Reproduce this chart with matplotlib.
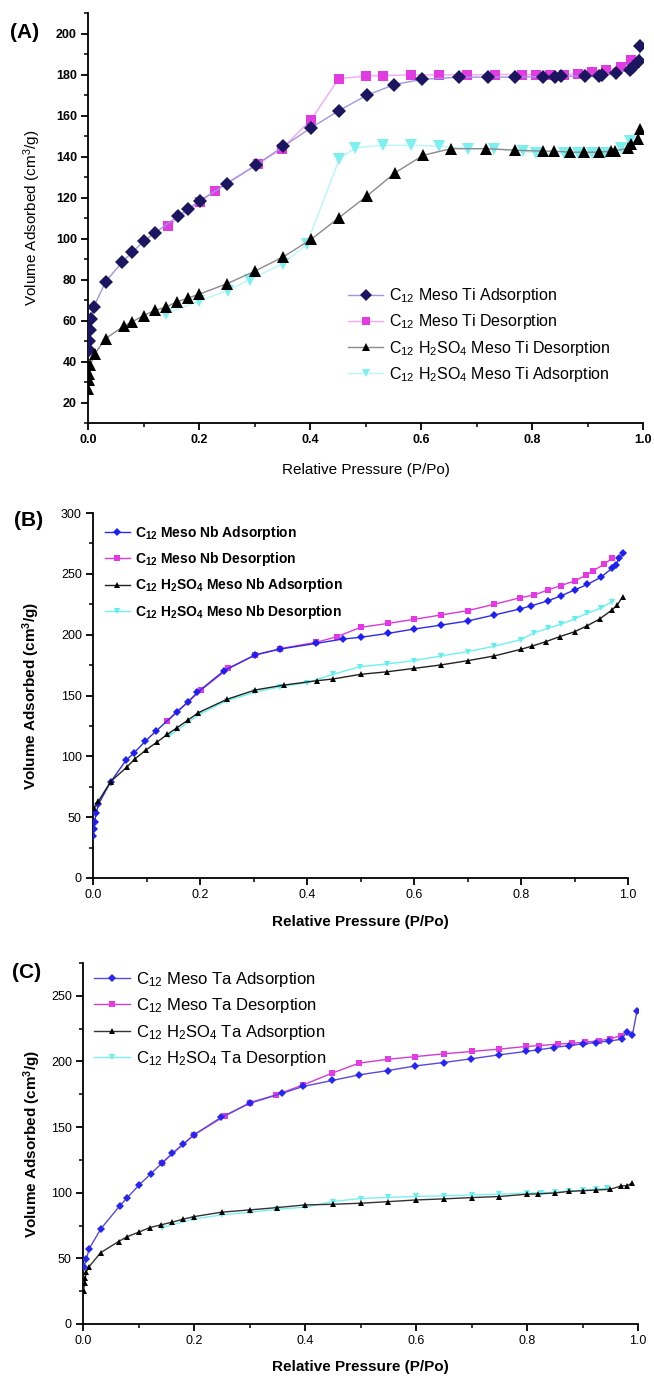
import matplotlib
matplotlib.use("Agg")
import matplotlib.pyplot as plt
from matplotlib.ticker import MultipleLocator

plt.rcParams.update({
    "font.family": ["Liberation Sans", "DejaVu Sans"],
    "mathtext.fontset": "custom",
    "mathtext.rm": "Liberation Sans",
    "mathtext.it": "Liberation Sans",
    "mathtext.bf": "Liberation Sans:bold",
    "axes.linewidth": 1.3,
    "xtick.direction": "out",
    "ytick.direction": "out",
})

# ---- (A) mesoporous Ti ----
ti_ads_p = [0.001, 0.002, 0.003, 0.005, 0.01, 0.032, 0.062, 0.08, 0.101, 0.121, 0.162, 0.181,
            0.202, 0.25, 0.303, 0.352, 0.402, 0.452, 0.502, 0.552, 0.601, 0.669, 0.72, 0.769,
            0.82, 0.841, 0.853, 0.895, 0.921, 0.927, 0.951, 0.976, 0.982, 0.993, 0.995]
ti_ads_v = [45.5, 50.2, 55.6, 60.8, 66.5, 79.0, 88.6, 93.5, 98.7, 102.8, 110.9, 114.5,
            118.5, 126.7, 135.8, 145.0, 154.0, 162.4, 169.8, 175.1, 177.6, 178.7, 178.7, 178.7,
            179.0, 179.0, 179.2, 179.2, 179.4, 179.6, 180.8, 182.4, 183.6, 186.8, 194.1]
ti_des_p = [0.978, 0.96, 0.934, 0.909, 0.883, 0.858, 0.832, 0.807, 0.782, 0.733, 0.682, 0.633,
            0.582, 0.532, 0.50, 0.452, 0.402, 0.35, 0.306, 0.228, 0.202, 0.1435]
ti_des_v = [186.9, 183.7, 182.1, 181.1, 180.3, 180.0, 180.0, 180.0, 180.0, 180.0, 179.8, 179.8,
            179.8, 179.5, 179.2, 178.0, 158.0, 143.9, 136.4, 123.4, 117.7, 106.0]
ti_acid_des_p = [0.0005, 0.001, 0.002, 0.004, 0.012, 0.032, 0.064, 0.08, 0.1, 0.12, 0.14, 0.16,
                 0.18, 0.2, 0.25, 0.3, 0.351, 0.402, 0.452, 0.502, 0.553, 0.604, 0.654, 0.718,
                 0.769, 0.82, 0.84, 0.868, 0.894, 0.92, 0.943, 0.95, 0.973, 0.979, 0.991, 0.995]
ti_acid_des_v = [26.8, 31.2, 34.0, 38.2, 43.7, 51.2, 57.2, 59.4, 62.4, 64.9, 66.5, 69.1,
                 70.9, 72.8, 77.9, 84.0, 90.9, 99.6, 110.1, 120.6, 132.0, 140.6, 143.8, 143.8,
                 143.1, 142.6, 142.6, 142.1, 142.1, 142.1, 142.6, 142.8, 144.0, 145.9, 148.6, 153.2]
ti_acid_ads_p = [0.977, 0.96, 0.934, 0.909, 0.883, 0.858, 0.808, 0.783, 0.732, 0.684, 0.633,
                 0.582, 0.531, 0.481, 0.453, 0.394, 0.351, 0.292, 0.252, 0.2, 0.14]
ti_acid_ads_v = [147.5, 144.2, 141.8, 141.5, 141.5, 141.5, 141.8, 142.6, 143.8, 143.9, 145.0,
                 145.5, 145.5, 144.2, 138.9, 97.1, 87.7, 80.0, 74.6, 69.5, 63.3]

# ---- (B) mesoporous Nb ----
nb_ads_p = [0.0006, 0.0015, 0.003, 0.006, 0.01, 0.033, 0.062, 0.077, 0.098, 0.118, 0.157, 0.178,
            0.195, 0.245, 0.303, 0.35, 0.417, 0.467, 0.5, 0.552, 0.6, 0.651, 0.7, 0.75, 0.798,
            0.818, 0.85, 0.874, 0.9, 0.924, 0.949, 0.97, 0.977, 0.984, 0.991]
nb_ads_v = [34.5, 40.0, 46.3, 53.2, 60.6, 79.0, 96.9, 102.9, 112.6, 120.8, 136.7, 144.9,
            152.5, 170.4, 183.3, 188.2, 192.8, 196.4, 197.8, 201.1, 204.6, 207.9, 211.2, 216.2, 221.1,
            223.6, 227.7, 231.8, 236.7, 241.3, 247.1, 254.5, 257.2, 263.2, 266.8]
nb_des_p = [0.97, 0.955, 0.934, 0.922, 0.9, 0.874, 0.85, 0.825, 0.799, 0.75, 0.7, 0.651, 0.6,
            0.552, 0.5, 0.456, 0.417, 0.35, 0.303, 0.253, 0.202, 0.139]
nb_des_v = [262.7, 257.8, 252.3, 249.0, 244.1, 240.3, 236.7, 232.6, 230.4, 225.0, 219.7, 216.2, 212.6,
            209.3, 206.0, 198.3, 193.7, 188.5, 183.3, 172.3, 154.5, 129.0]
nb_acid_ads_p = [0.002, 0.01, 0.033, 0.063, 0.078, 0.099, 0.119, 0.139, 0.157, 0.178, 0.197, 0.25,
                 0.303, 0.357, 0.418, 0.449, 0.5, 0.55, 0.6, 0.65, 0.7, 0.75, 0.8, 0.82, 0.846,
                 0.872, 0.9, 0.924, 0.947, 0.97, 0.98, 0.99]
nb_acid_ads_v = [57.2, 63.0, 79.3, 91.0, 97.8, 105.2, 111.5, 118.1, 123.5, 129.9, 135.9, 146.8,
                 154.5, 158.6, 162.1, 163.6, 167.4, 169.5, 172.3, 175.1, 178.6, 182.5, 188.0, 190.5, 194.2,
                 198.3, 202.4, 207.4, 212.9, 220.3, 224.4, 231.2]
nb_acid_des_p = [0.97, 0.949, 0.924, 0.9, 0.874, 0.85, 0.825, 0.8, 0.75, 0.7, 0.65, 0.6, 0.549,
                 0.499, 0.449, 0.4, 0.35, 0.302, 0.25, 0.2, 0.142]
nb_acid_des_v = [227.1, 221.7, 217.6, 212.9, 208.5, 205.2, 201.6, 196.0, 190.5, 186.0, 182.5, 178.6, 175.9,
                 173.7, 167.4, 160.5, 157.2, 152.6, 145.7, 134.8, 116.7]

# ---- (C) mesoporous Ta ----
ta_ads_p = [0.0015, 0.006, 0.011, 0.032, 0.066, 0.08, 0.101, 0.122, 0.142, 0.161, 0.181, 0.2,
            0.249, 0.301, 0.359, 0.397, 0.449, 0.498, 0.55, 0.599, 0.65, 0.699, 0.749, 0.798,
            0.819, 0.849, 0.875, 0.9, 0.924, 0.948, 0.971, 0.98, 0.99, 0.998]
ta_ads_v = [43.7, 49.3, 57.2, 72.4, 89.9, 96.3, 105.9, 114.3, 122.5, 130.1, 137.2, 144.1,
            157.5, 168.2, 175.8, 181.0, 185.5, 189.8, 193.1, 196.6, 199.2, 202.0, 205.0, 207.6,
            208.8, 210.6, 212.1, 213.4, 214.4, 215.5, 217.0, 222.8, 220.3, 238.1]
ta_des_p = [0.969, 0.949, 0.929, 0.905, 0.881, 0.856, 0.822, 0.798, 0.75, 0.7, 0.65, 0.599,
            0.55, 0.497, 0.449, 0.397, 0.348, 0.301, 0.256, 0.2, 0.142]
ta_des_v = [219.5, 217.2, 215.7, 214.7, 213.9, 213.2, 212.1, 211.4, 209.4, 207.6, 205.8, 203.7,
            201.7, 198.7, 191.1, 182.2, 174.5, 168.7, 158.5, 144.1, 122.5]
ta_acid_ads_p = [0.001, 0.003, 0.004, 0.006, 0.011, 0.032, 0.064, 0.08, 0.1, 0.12, 0.14, 0.16,
                 0.18, 0.2, 0.25, 0.3, 0.35, 0.4, 0.45, 0.5, 0.55, 0.6, 0.65, 0.7, 0.75, 0.8,
                 0.82, 0.85, 0.875, 0.9, 0.925, 0.95, 0.97, 0.98, 0.99]
ta_acid_ads_v = [25.4, 31.5, 34.8, 39.9, 43.7, 54.4, 62.8, 66.6, 69.9, 73.4, 75.5, 77.5,
                 79.8, 81.8, 85.2, 86.9, 88.7, 90.7, 91.2, 92.0, 93.2, 94.5, 95.3, 96.3, 97.1, 98.9,
                 99.1, 99.8, 101.0, 101.5, 102.1, 102.6, 105.2, 105.4, 107.4]
ta_acid_des_p = [0.945, 0.925, 0.9, 0.875, 0.85, 0.826, 0.8, 0.75, 0.7, 0.65, 0.6, 0.55, 0.5,
                 0.45, 0.4, 0.35, 0.3, 0.25, 0.2, 0.142]
ta_acid_des_v = [103.3, 102.8, 102.0, 101.3, 100.3, 100.1, 99.6, 98.9, 98.3, 97.6, 97.2, 96.4, 95.6,
                 93.3, 89.0, 87.4, 85.1, 83.1, 80.0, 73.4]

W, H = 654, 1376
fig = plt.figure(figsize=(W / 100, H / 100), dpi=100)


def px_axes(left, right, top, bottom):
    return fig.add_axes([left / W, 1 - bottom / H, (right - left) / W, (bottom - top) / H])


def style(ax, xlim, ylim, ymaj, ymin, bold_ticks, tick_size):
    ax.set_xlim(*xlim)
    ax.set_ylim(*ylim)
    ax.xaxis.set_major_locator(MultipleLocator(0.2))
    ax.xaxis.set_minor_locator(MultipleLocator(0.1))
    ax.yaxis.set_major_locator(MultipleLocator(ymaj))
    ax.yaxis.set_minor_locator(MultipleLocator(ymin))
    for s in ("top", "right"):
        ax.spines[s].set_visible(False)
    ax.tick_params(which="major", length=5, width=1.3, labelsize=tick_size, pad=3)
    ax.tick_params(which="minor", length=3, width=1.1)
    ax.xaxis.set_major_formatter(matplotlib.ticker.FormatStrFormatter("%.1f"))
    if bold_ticks:
        for lab in ax.get_xticklabels() + ax.get_yticklabels():
            lab.set_fontweight("bold")


# (A)
axA = px_axes(88, 643, 13, 423)
style(axA, (0, 1.0), (10, 210), 20, 10, True, 9)
axA.set_yticks(range(20, 201, 20))
hA = []
hA += axA.plot(ti_ads_p, ti_ads_v, color="#a195e0", lw=1.0, marker="D", ms=7.5,
               mfc="#1c1660", mec="#1c1660", mew=0, zorder=4,
               label=r"C$_{12}$ Meso Ti Adsorption")
hA += axA.plot(ti_des_p, ti_des_v, color="#f4a6f4", lw=1.0, marker="s", ms=6.5,
               mfc="#e23be2", mec="#e23be2", mew=0, zorder=3,
               label=r"C$_{12}$ Meso Ti Desorption")
hA += axA.plot(ti_acid_des_p, ti_acid_des_v, color="#8a8a8a", lw=1.0, marker="^", ms=8,
               mfc="black", mec="black", mew=0, zorder=4,
               label=r"C$_{12}$ H$_2$SO$_4$ Meso Ti Desorption")
hA += axA.plot(ti_acid_ads_p, ti_acid_ads_v, color="#b9f7f7", lw=1.0, marker="v", ms=8,
               mfc="#7cf0f0", mec="#7cf0f0", mew=0, zorder=3,
               label=r"C$_{12}$ H$_2$SO$_4$ Meso Ti Adsorption")
axA.set_ylabel(r"Volume Adsorbed (cm$^3$/g)", fontsize=11)
axA.set_xlabel("Relative Pressure (P/Po)", fontsize=11)
axA.yaxis.set_label_coords(-0.081, 0.5)
axA.xaxis.set_label_coords(0.5, -0.097)
axA.legend(handles=hA, loc="upper left", bbox_to_anchor=(337 / W, 1 - 275 / H),
           bbox_transform=fig.transFigure, frameon=False, fontsize=11.5,
           handlelength=2.2, handletextpad=0.35, labelspacing=0.45, borderpad=0.2,
           markerscale=0.8)
fig.text(10 / W, 1 - 33 / H, "(A)", fontsize=15, fontweight="bold", va="center", ha="left")

# (B)
axB = px_axes(93, 628, 513, 878)
style(axB, (0, 1.0), (0, 300), 50, 25, False, 9)
hB = []
hB += axB.plot(nb_ads_p, nb_ads_v, color="#2b2be6", lw=1.0, marker="D", ms=4,
               mfc="#1f1ff0", mec="#1f1ff0", mew=0, zorder=4,
               label=r"C$_\mathbf{12}$ Meso Nb Adsorption")
hB += axB.plot(nb_des_p, nb_des_v, color="#d93ad9", lw=1.0, marker="s", ms=4.5,
               mfc="#e636e6", mec="#e636e6", mew=0, zorder=3,
               label=r"C$_\mathbf{12}$ Meso Nb Desorption")
hB += axB.plot(nb_acid_ads_p, nb_acid_ads_v, color="#222222", lw=1.0, marker="^", ms=5,
               mfc="black", mec="black", mew=0, zorder=4,
               label=r"C$_\mathbf{12}$ H$_\mathbf{2}$SO$_\mathbf{4}$ Meso Nb Adsorption")
hB += axB.plot(nb_acid_des_p, nb_acid_des_v, color="#6ff0f0", lw=1.0, marker="v", ms=5,
               mfc="#5ef0f0", mec="#5ef0f0", mew=0, zorder=3,
               label=r"C$_\mathbf{12}$ H$_\mathbf{2}$SO$_\mathbf{4}$ Meso Nb Desorption")
axB.set_ylabel(r"Volume Adsorbed (cm$^\mathbf{3}$/g)", fontsize=11, fontweight="bold")
axB.set_xlabel("Relative Pressure (P/Po)", fontsize=11, fontweight="bold")
axB.yaxis.set_label_coords(-0.095, 0.5)
axB.xaxis.set_label_coords(0.5, -0.102)
axB.legend(handles=hB, loc="upper left", bbox_to_anchor=(95 / W, 1 - 514 / H),
           bbox_transform=fig.transFigure, frameon=False,
           prop={"size": 10, "weight": "bold"},
           handlelength=1.8, handletextpad=0.4, labelspacing=0.6, borderpad=0.2)
fig.text(14 / W, 1 - 520 / H, "(B)", fontsize=15, fontweight="bold", va="center", ha="left")

# (C)
axC = px_axes(83, 638, 963, 1324)
style(axC, (0, 1.0), (0, 275), 50, 25, False, 9)
hC = []
hC += axC.plot(ta_ads_p, ta_ads_v, color="#5a48e0", lw=1.0, marker="D", ms=4,
               mfc="#2626ee", mec="#2626ee", mew=0, zorder=4,
               label=r"C$_{12}$ Meso Ta Adsorption")
hC += axC.plot(ta_des_p, ta_des_v, color="#d23cd2", lw=1.0, marker="s", ms=4.5,
               mfc="#e23ce2", mec="#e23ce2", mew=0, zorder=3,
               label=r"C$_{12}$ Meso Ta Desorption")
hC += axC.plot(ta_acid_ads_p, ta_acid_ads_v, color="#333333", lw=1.0, marker="^", ms=5,
               mfc="black", mec="black", mew=0, zorder=4,
               label=r"C$_{12}$ H$_2$SO$_4$ Ta Adsorption")
hC += axC.plot(ta_acid_des_p, ta_acid_des_v, color="#7cf0f0", lw=1.0, marker="v", ms=5,
               mfc="#66f0f0", mec="#66f0f0", mew=0, zorder=3,
               label=r"C$_{12}$ H$_2$SO$_4$ Ta Desorption")
axC.set_ylabel(r"Volume Adsorbed (cm$^\mathbf{3}$/g)", fontsize=11, fontweight="bold")
axC.set_xlabel("Relative Pressure (P/Po)", fontsize=11, fontweight="bold")
axC.yaxis.set_label_coords(-0.072, 0.5)
axC.xaxis.set_label_coords(0.5, -0.1)
axC.legend(handles=hC, loc="upper left", bbox_to_anchor=(82 / W, 1 - 958 / H),
           bbox_transform=fig.transFigure, frameon=False, fontsize=12,
           handlelength=2.2, handletextpad=0.35, labelspacing=0.45, borderpad=0.2)
fig.text(12 / W, 1 - 972 / H, "(C)", fontsize=15, fontweight="bold", va="center", ha="left")

fig.savefig("out.png", dpi=100, facecolor="white")
